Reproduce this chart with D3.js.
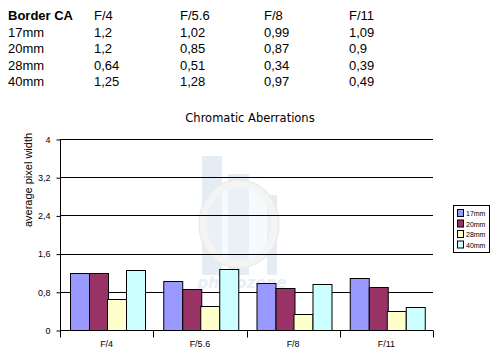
<!DOCTYPE html>
<html>
<head>
<meta charset="utf-8">
<script src="https://cdn.jsdelivr.net/npm/d3@7"></script>
<style>
  body { margin: 0; background: #fff; }
  svg { display: block; }
</style>
</head>
<body>
<div id="chart"></div>
<script>
var svgWidth = 497;
var svgHeight = 361;

// data
var apertures = ["F/4", "F/5.6", "F/8", "F/11"];
var lenses = ["17mm", "20mm", "28mm", "40mm"];
var ca17 = [1.2, 1.02, 0.99, 1.09];
var ca20 = [1.2, 0.85, 0.87, 0.9];
var ca28 = [0.64, 0.51, 0.34, 0.39];
var ca40 = [1.25, 1.28, 0.97, 0.49];
var yTicks = [0, 0.8, 1.6, 2.4, 3.2, 4];
var colors = ["#9999ff", "#993366", "#ffffcc", "#ccffff"];

var series = [ca17, ca20, ca28, ca40];

var svg = d3.select("#chart")
  .append("svg")
  .attr("width", svgWidth)
  .attr("height", svgHeight);

// table above the chart
var tbl = svg.append("g")
  .attr("font-family", "Liberation Sans, Arial, sans-serif")
  .attr("font-size", "13px")
  .attr("fill", "#000");

var colX = [8, 94, 180, 264, 349];
var rowY = [20, 37, 53, 70, 86];
var fmt = v => String(v).replace(".", ",");

tbl.append("text").attr("x", colX[0]).attr("y", rowY[0])
  .attr("font-weight", "bold").text("Border CA");
apertures.forEach(function(a, i) {
  tbl.append("text").attr("x", colX[i + 1]).attr("y", rowY[0]).text(a);
});
lenses.forEach(function(l, r) {
  tbl.append("text").attr("x", colX[0]).attr("y", rowY[r + 1]).text(l);
  series[r].forEach(function(v, i) {
    tbl.append("text").attr("x", colX[i + 1]).attr("y", rowY[r + 1]).text(fmt(v));
  });
});

// chart area
var plot = { left: 60, right: 433, top: 139, bottom: 330 };

var x0 = d3.scaleBand()
  .domain(apertures)
  .range([plot.left, plot.right]);

var gpad = 10;
var x1 = d3.scaleBand()
  .domain(lenses)
  .range([gpad, x0.bandwidth() - gpad + 1]);

var y = d3.scaleLinear()
  .domain([0, 4])
  .range([plot.bottom, plot.top]);

// title
svg.append("text")
  .attr("x", 250)
  .attr("y", 122)
  .attr("text-anchor", "middle")
  .attr("font-family", "DejaVu Sans, Verdana, sans-serif")
  .attr("font-size", "11.5px")
  .text("Chromatic Aberrations");

// faint watermark behind everything
var wm = svg.append("g");
wm.append("rect").attr("x", 202).attr("y", 156).attr("width", 20).attr("height", 119).attr("fill", "#e6ecf3");
wm.append("rect").attr("x", 228).attr("y", 174).attr("width", 21).attr("height", 101).attr("fill", "#e6ecf3");
wm.append("rect").attr("x", 267).attr("y", 195).attr("width", 10).attr("height", 80).attr("fill", "#e6ecf3");
wm.append("ellipse").attr("cx", 239).attr("cy", 224).attr("rx", 36).attr("ry", 40)
  .attr("fill", "#eef6fa").attr("fill-opacity", 0.5)
  .attr("stroke", "#f4f4f4").attr("stroke-width", 7);
wm.append("ellipse").attr("cx", 239).attr("cy", 224).attr("rx", 40).attr("ry", 44)
  .attr("fill", "none").attr("stroke", "#ebebeb").attr("stroke-width", 1.5);
wm.append("text").attr("x", 242).attr("y", 288).attr("text-anchor", "middle")
  .attr("font-family", "DejaVu Sans, sans-serif").attr("font-style", "italic")
  .attr("font-weight", "bold").attr("font-size", "15px").attr("fill", "#e8eef4")
  .text("photozone");

// gridlines
svg.append("g")
  .selectAll("line")
  .data(yTicks.slice(1))
  .enter()
  .append("line")
  .attr("x1", plot.left)
  .attr("x2", plot.right)
  .attr("y1", d => Math.round(y(d)) + 0.5)
  .attr("y2", d => Math.round(y(d)) + 0.5)
  .attr("stroke", "#000");

// bars
var groups = svg.append("g")
  .selectAll("g")
  .data(apertures)
  .enter()
  .append("g")
  .attr("transform", d => `translate(${x0(d)},0)`);

groups.selectAll("rect")
  .data((d, i) => lenses.map((l, j) => ({ lens: l, value: series[j][i], color: colors[j] })))
  .enter()
  .append("rect")
  .attr("x", d => Math.round(x1(d.lens)) + 0.5)
  .attr("y", d => Math.round(y(d.value)) + 0.5)
  .attr("width", Math.round(x1.bandwidth()))
  .attr("height", d => Math.round(y(0)) - Math.round(y(d.value)))
  .attr("fill", d => d.color)
  .attr("stroke", "#000");

// y axis
var leftAxis = d3.axisLeft(y)
  .tickValues(yTicks)
  .tickSize(4)
  .tickPadding(6)
  .tickFormat(d => fmt(d));

var yAxis = svg.append("g")
  .attr("transform", `translate(${plot.left + 0.5},0.5)`)
  .call(leftAxis);
yAxis.select(".domain").attr("d", `M0,${plot.top}V${plot.bottom}`);
yAxis.selectAll("text")
  .attr("font-family", "Liberation Sans, Arial, sans-serif")
  .attr("font-size", "9px");

// x axis
var bottomAxis = d3.axisBottom(x0).tickSize(0).tickPadding(10);
var xAxis = svg.append("g")
  .attr("transform", `translate(0,${plot.bottom + 0.5})`)
  .call(bottomAxis);
xAxis.select(".domain").attr("d", `M${plot.left},0H${plot.right}`);
xAxis.selectAll("text")
  .attr("font-family", "Liberation Sans, Arial, sans-serif")
  .attr("font-size", "9px");

// category boundary ticks
xAxis.append("g")
  .selectAll("line")
  .data(apertures.concat(["end"]))
  .enter()
  .append("line")
  .attr("x1", (d, i) => Math.round(plot.left + i * x0.bandwidth()) + 0.5)
  .attr("x2", (d, i) => Math.round(plot.left + i * x0.bandwidth()) + 0.5)
  .attr("y1", 0)
  .attr("y2", 7)
  .attr("stroke", "#000");

// y axis label
svg.append("text")
  .attr("transform", "translate(32,180) rotate(-90)")
  .attr("text-anchor", "middle")
  .attr("font-family", "Liberation Sans, Arial, sans-serif")
  .attr("font-size", "11px")
  .text("average pixel width");

// legend
var legend = svg.append("g");
legend.append("rect")
  .attr("x", 453.5).attr("y", 205.5)
  .attr("width", 36).attr("height", 47)
  .attr("fill", "#fff").attr("stroke", "#000");

var items = legend.selectAll("g.item")
  .data(lenses)
  .enter()
  .append("g")
  .attr("class", "item")
  .attr("transform", (d, i) => `translate(457,${209 + i * 10.5})`);

items.append("rect")
  .attr("x", 0.5).attr("y", 0.5)
  .attr("width", 6).attr("height", 7)
  .attr("fill", (d, i) => colors[i])
  .attr("stroke", "#000");

items.append("text")
  .attr("x", 9)
  .attr("y", 7)
  .attr("font-family", "Liberation Sans, Arial, sans-serif")
  .attr("font-size", "7px")
  .text(d => d);
</script>
</body>
</html>
